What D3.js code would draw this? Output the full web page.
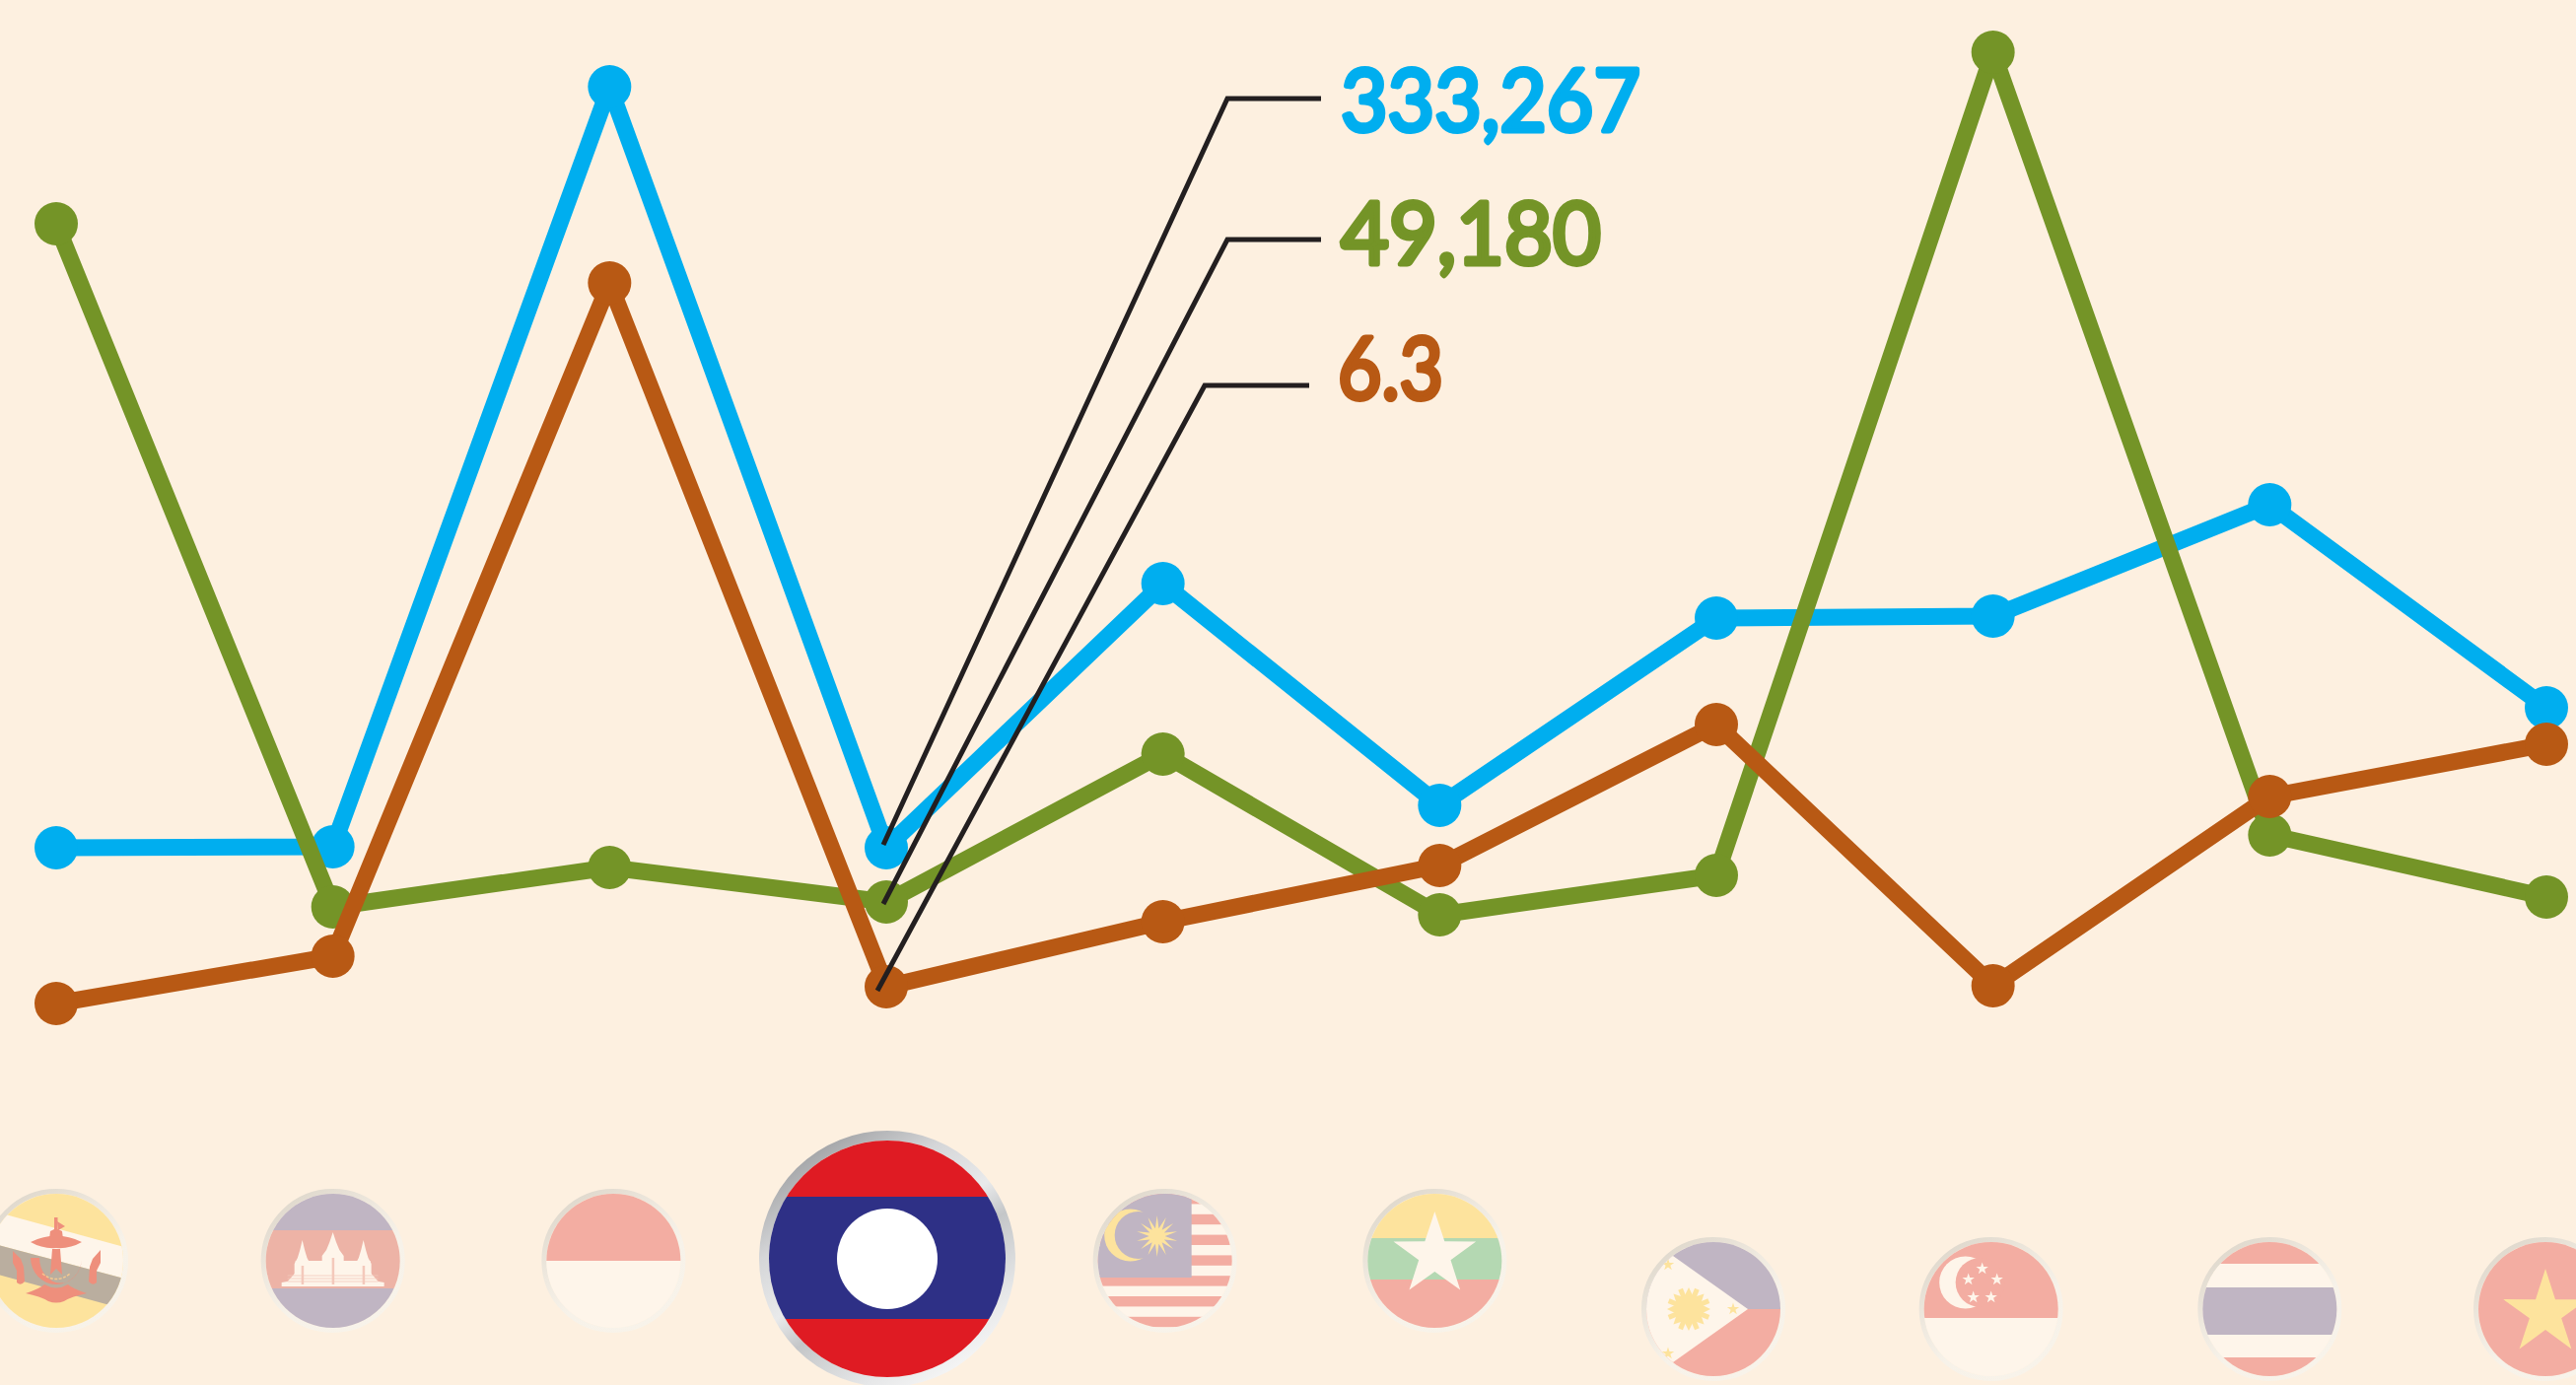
<!DOCTYPE html>
<html>
<head>
<meta charset="utf-8">
<script src="https://cdn.jsdelivr.net/npm/d3@7"></script>
<style>
  html, body { margin: 0; padding: 0; background: #fdf0e0; overflow: hidden; }
  svg { display: block; }
</style>
</head>
<body>
<svg id="chart" width="2613" height="1405"></svg>
<script>
var countries = ["Brunei","Cambodia","Indonesia","Laos","Malaysia","Myanmar","Philippines","Singapore","Thailand","Vietnam"];

// values are read off the picture as an index, the original has no axis
var blueValues  = [19.0,19.1,96.2,19.0,45.8,23.3,42.3,42.5,53.8,33.2];
var greenValues = [82.3,13.0,17.0,13.5,28.5,12.2,16.2,99.7,20.3,14.0];
var brownValues = [3.2,8.0,76.3,4.9,11.5,17.2,31.5,5.0,24.2,29.5];

var blueLabel = "333,267", greenLabel = "49,180", brownLabel = "6.3";
var selected = "Laos";

var BLUE = "#00aeef", GREEN = "#749427", BROWN = "#b85914", INK = "#231f20";
// washed out flag colours
var RED = "#f3ada2", NAVY = "#c0b5c3", WHITE = "#fef5ea", YELLOW = "#fde39d", LEAF = "#b4d8b2", DARK = "#baae9f";

var svg = d3.select("#chart");
var x = d3.scalePoint().domain(countries).range([57, 2583]);
var y = d3.scaleLinear().domain([0, 100]).range([1050, 50]);

svg.append("rect").attr("width", 2613).attr("height", 1405).attr("fill", "#fdf0e0");

var defs = svg.append("defs");

function ringGradient(id, stops) {
  var grad = defs.append("linearGradient").attr("id", id)
    .attr("x1", "10%").attr("y1", "0%").attr("x2", "75%").attr("y2", "100%");
  stops.forEach(function(s) {
    grad.append("stop").attr("offset", s[0]).attr("stop-color", s[1]);
  });
}
ringGradient("ringFaded", [[0, "#dcd5c9"], [0.4, "#efe9df"], [0.65, "#f7f2e9"], [1, "#f8f3ea"]]);
ringGradient("ringFull", [[0, "#8f9194"], [0.3, "#d5d6d8"], [0.5, "#e9eaeb"], [0.62, "#c4c6c8"], [0.85, "#e6e7e8"], [1, "#f7f7f7"]]);

// flag helpers, everything local to the flag centre
function band(g, y0, y1, col) {
  g.append("rect").attr("x", -140).attr("width", 280).attr("y", y0).attr("height", y1 - y0).attr("fill", col);
}
function poly(g, pts, col) {
  g.append("polygon").attr("points", pts.map(function(p) { return p.join(","); }).join(" ")).attr("fill", col);
}
function star(g, cx, cy, R, r, n, col) {
  var pts = [];
  for (var i = 0; i < n * 2; i++) {
    var a = -Math.PI / 2 + i * Math.PI / n;
    var rad = i % 2 ? r : R;
    pts.push([cx + rad * Math.cos(a), cy + rad * Math.sin(a)]);
  }
  poly(g, pts, col);
}
function disc(g, cx, cy, r, col) {
  g.append("circle").attr("cx", cx).attr("cy", cy).attr("r", r).attr("fill", col);
}

var flagDrawers = {
  Brunei: function(g) {
    band(g, -80, 80, YELLOW);
    poly(g, [[-70, -52], [80, -11], [80, 21], [-70, -19]], WHITE);
    poly(g, [[-70, -19], [80, 21], [80, 52], [-70, 11]], DARK);
    var em = "#ee8f7c";
    g.append("path").attr("d", "M-26,-3 A26,27 0 1 0 26,-3 A21,25 0 0 1 -17,-3 Z").attr("fill", em);
    g.append("path").attr("d", "M-26,-19 Q0,-32 26,-19 Q14,-12 0,-13 Q-14,-12 -26,-19 Z").attr("fill", em);
    g.append("rect").attr("x", -2).attr("y", -44).attr("width", 3.5).attr("height", 30).attr("fill", em);
    poly(g, [[1, -40], [9, -35], [2, -31]], em);
    poly(g, [[-7, -22], [-6, -30], [0, -33], [6, -30], [7, -22]], em);
    poly(g, [[-4, -12], [4, -12], [6, 14], [0, 8], [-6, 14]], em);
    g.append("path").attr("d", "M-44,-10 L-36,-2 L-33,6 L-32,21 Q-36,26 -40,22 L-40,10 L-44,2 Z").attr("fill", em);
    g.append("path").attr("d", "M45,-11 L37,-2 L34,6 L33,21 Q37,26 41,22 L41,10 L45,2 Z").attr("fill", em);
    g.append("path").attr("d", "M-31,33 Q-16,28 -12,24 Q0,31 12,24 Q16,28 31,33 Q16,36 8,41 Q0,44 -8,41 Q-16,36 -31,33 Z").attr("fill", em);
    g.append("path").attr("d", "M-14,13 Q0,24 14,13").attr("fill", "none").attr("stroke", "#f6c98f").attr("stroke-width", 1.5).attr("stroke-dasharray", "3,1.5");
  },
  Cambodia: function(g) {
    band(g, -80, -31, NAVY);
    band(g, -31, 28, "#edb3a6");
    band(g, 28, 80, NAVY);
    poly(g, [[-52, 26], [52, 26], [52, 22], [46, 21], [38, 12], [-38, 12], [-46, 21], [-52, 22]], WHITE);
    g.append("rect").attr("x", -38).attr("y", 0).attr("width", 76).attr("height", 14).attr("fill", WHITE);
    // the three towers of the temple
    [[0, -29, 11], [-31, -21, 8], [31, -21, 8]].forEach(function(t) {
      poly(g, [[t[0], t[1]], [t[0] + t[2] * 0.3, t[1] + 10], [t[0] + t[2] * 0.6, t[1] + 18], [t[0] + t[2], t[1] + 24], [t[0] + t[2], 24], [t[0] - t[2], 24], [t[0] - t[2], t[1] + 24], [t[0] - t[2] * 0.6, t[1] + 18], [t[0] - t[2] * 0.3, t[1] + 10]], WHITE);
      g.append("rect").attr("x", t[0] - 1).attr("y", t[1] + 26).attr("width", 2.5).attr("height", 24 - t[1] - 26).attr("fill", "#f4c9bb");
    });
    [15, 18, 21].forEach(function(l) {
      g.append("line").attr("x1", -46).attr("x2", 46).attr("y1", l).attr("y2", l).attr("stroke", "#f4c9bb").attr("stroke-width", 0.8);
    });
  },
  Indonesia: function(g) {
    band(g, -80, 0, RED);
    band(g, 0, 80, WHITE);
  },
  Laos: function(g) {
    band(g, -130, -63, "#df1b23");
    band(g, -63, 61, "#2e3086");
    band(g, 61, 130, "#df1b23");
    disc(g, 0, 0, 51, "#ffffff");
  },
  Malaysia: function(g) {
    band(g, -80, 80, WHITE);
    // 14 stripes, about 10.4 high, red first
    d3.range(7).forEach(function(i) {
      band(g, -68 + i * 20.8, -68 + i * 20.8 + 10.4, RED);
    });
    g.append("rect").attr("x", -80).attr("y", -80).attr("width", 107).attr("height", 97).attr("fill", NAVY);
    disc(g, -35, -26, 26.5, YELLOW);
    disc(g, -27, -26, 24, NAVY);
    star(g, -8, -25, 21, 8, 14, YELLOW);
  },
  Myanmar: function(g) {
    band(g, -80, -23, YELLOW);
    band(g, -23, 19, LEAF);
    band(g, 19, 80, RED);
    star(g, 0, -6, 44, 17, 5, WHITE);
  },
  Philippines: function(g) {
    band(g, -80, 0, NAVY);
    band(g, 0, 80, RED);
    poly(g, [[35, 0], [-41, -54], [-80, -54], [-80, 54], [-41, 54]], WHITE);
    star(g, -25, 0, 22, 13, 8, YELLOW);
    d3.range(8).forEach(function(i) {
      g.append("rect").attr("x", -25 - 2.5).attr("y", -22).attr("width", 5).attr("height", 22)
        .attr("transform", "rotate(" + (22.5 + i * 45) + ",-25,0)").attr("fill", YELLOW);
    });
    disc(g, -25, 0, 14, YELLOW);
    star(g, -46, -45, 6.5, 2.5, 5, YELLOW);
    star(g, 20, 0, 6.5, 2.5, 5, YELLOW);
    star(g, -46, 45, 6.5, 2.5, 5, YELLOW);
  },
  Singapore: function(g) {
    band(g, -80, 9, RED);
    band(g, 9, 80, WHITE);
    disc(g, -26, -27, 26.5, WHITE);
    disc(g, -11, -27, 25, RED);
    star(g, -9, -41, 6.5, 2.6, 5, WHITE);
    star(g, -23, -30, 6.5, 2.6, 5, WHITE);
    star(g, 6, -30, 6.5, 2.6, 5, WHITE);
    star(g, -18, -12, 6.5, 2.6, 5, WHITE);
    star(g, 0, -12, 6.5, 2.6, 5, WHITE);
  },
  Thailand: function(g) {
    band(g, -80, -46, RED);
    band(g, -46, -22, WHITE);
    band(g, -22, 26, NAVY);
    band(g, 26, 49, WHITE);
    band(g, 49, 80, RED);
  },
  Vietnam: function(g) {
    band(g, -80, 80, RED);
    star(g, 0, 4, 45, 17, 5, YELLOW);
  }
};

// nudges of the flags against their column, the flags do not sit exactly on the points
var flagDx = [0, 0, 4, 1, 2, -5, -3, -2, 0, -1];
var flagCy = [1279, 1279, 1279, 1277, 1279, 1279, 1328, 1328, 1328, 1328];

var flags = svg.append("g").attr("class", "flags");
countries.forEach(function(c, i) {
  var big = c === selected;
  var r = big ? 120 : 68;
  defs.append("clipPath").attr("id", "clip_" + c).append("circle").attr("r", r);

  var g = flags.append("g").attr("transform", "translate(" + (x(c) + flagDx[i]) + "," + flagCy[i] + ")");
  g.append("circle")
    .attr("r", big ? 125 : 70.5)
    .attr("fill", "none")
    .attr("stroke", big ? "url(#ringFull)" : "url(#ringFaded)")
    .attr("stroke-width", big ? 10 : 5);
  flagDrawers[c](g.append("g").attr("clip-path", "url(#clip_" + c + ")"));
});

var series = [
  { name: "blue", values: blueValues, col: BLUE },
  { name: "green", values: greenValues, col: GREEN },
  { name: "brown", values: brownValues, col: BROWN }
];

var line = d3.line()
  .x(function(d, i) { return x(countries[i]); })
  .y(function(d) { return y(d); });

series.forEach(function(s) {
  var g = svg.append("g").attr("class", "series_" + s.name);
  g.append("path")
    .attr("d", line(s.values))
    .attr("fill", "none")
    .attr("stroke", s.col)
    .attr("stroke-width", 17)
    .attr("stroke-linejoin", "round");
  g.selectAll("circle").data(s.values)
    .enter().append("circle")
    .attr("cx", function(d, i) { return x(countries[i]); })
    .attr("cy", function(d) { return y(d); })
    .attr("r", 22)
    .attr("fill", s.col);
});

// leader lines from the selected country to its labels
var iSel = countries.indexOf(selected);
var callouts = [
  { v: blueValues[iSel],  dx: -3,  dy: -3, elbowX: 1245, lineY: 100, endX: 1340, label: blueLabel,  col: BLUE,  tx: 1360, base: 133, w: 304 },
  { v: greenValues[iSel], dx: -3,  dy: 2,  elbowX: 1245, lineY: 243, endX: 1340, label: greenLabel, col: GREEN, tx: 1360, base: 268, w: 264 },
  { v: brownValues[iSel], dx: -9,  dy: 4,  elbowX: 1222, lineY: 391, endX: 1328, label: brownLabel, col: BROWN, tx: 1357, base: 405, w: 107 }
];

callouts.forEach(function(c) {
  svg.append("path")
    .attr("d", d3.line()([[x(selected) + c.dx, y(c.v) + c.dy], [c.elbowX, c.lineY], [c.endX, c.lineY]]))
    .attr("fill", "none")
    .attr("stroke", INK)
    .attr("stroke-width", 5)
    .attr("stroke-linejoin", "miter");
  svg.append("text")
    .attr("x", c.tx)
    .attr("y", c.base)
    .attr("font-family", "Lato, 'Open Sans', sans-serif")
    .attr("font-size", 88)
    .attr("font-weight", 400)
    .attr("fill", c.col)
    .attr("stroke", c.col)
    .attr("stroke-width", 5)
    .attr("stroke-linejoin", "round")
    .attr("textLength", c.w)
    .attr("lengthAdjust", "spacingAndGlyphs")
    .text(c.label);
});
</script>
</body>
</html>
